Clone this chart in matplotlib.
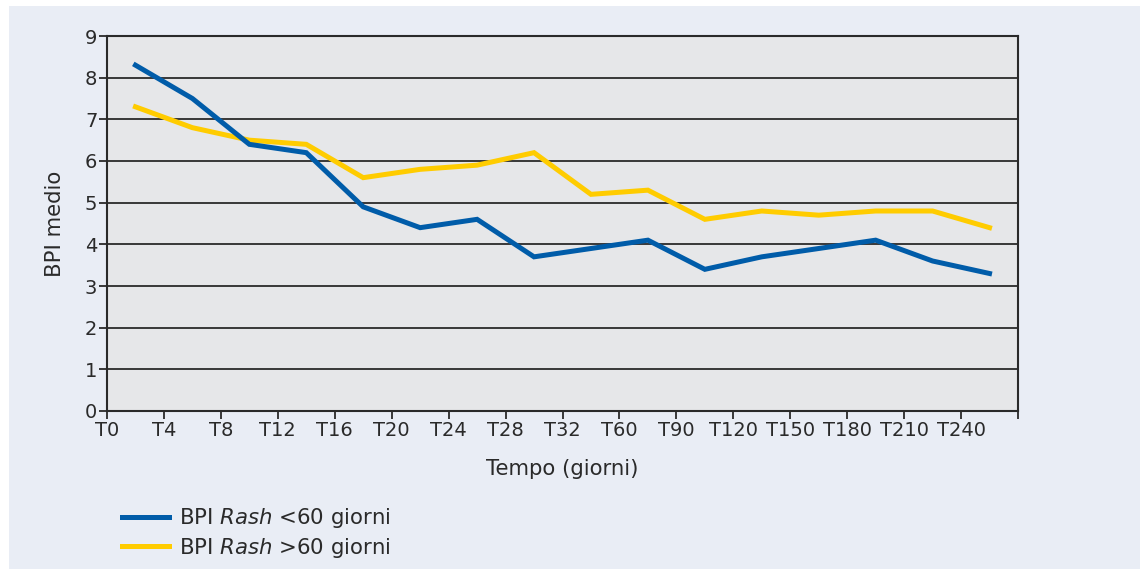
import matplotlib.pyplot as plt
from matplotlib.patches import Rectangle
from matplotlib.lines import Line2D

labels = ['T0', 'T4', 'T8', 'T12', 'T16', 'T20', 'T24', 'T28', 'T32',
          'T60', 'T90', 'T120', 'T150', 'T180', 'T210', 'T240']
bpi_lt60 = [8.3, 7.5, 6.4, 6.2, 4.9, 4.4, 4.6, 3.7, 3.9, 4.1, 3.4, 3.7, 3.9, 4.1, 3.6, 3.3]
bpi_gt60 = [7.3, 6.8, 6.5, 6.4, 5.6, 5.8, 5.9, 6.2, 5.2, 5.3, 4.6, 4.8, 4.7, 4.8, 4.8, 4.4]

blue = '#005ca9'
yellow = '#ffcc00'
ink = '#2a2a2a'
W, H = 1140, 572

plt.rcParams['font.family'] = ['DejaVu Sans']
fig = plt.figure(figsize=(W / 100, H / 100), dpi=100, facecolor='white')
fig.patches.append(Rectangle((9 / W, 0.006), 1, 1 - 6 / H - 0.006, transform=fig.transFigure,
                             facecolor='#e9edf5', edgecolor='none', zorder=-10))

ax = fig.add_axes([107 / W, 1 - 411 / H, (1018 - 107) / W, (411 - 36) / H])
ax.set_facecolor('#e6e7e9')

x = [i + 0.5 for i in range(len(labels))]
ax.plot(x, bpi_gt60, color=yellow, lw=3.6, solid_joinstyle='miter')
ax.plot(x, bpi_lt60, color=blue, lw=3.6, solid_joinstyle='miter')

ax.set_xlim(0, len(labels))
ax.set_ylim(0, 9)
ax.set_xticks(range(len(labels) + 1))
ax.set_xticklabels(labels + [''])
ax.set_yticks(range(10))
ax.grid(axis='y', color=ink, lw=1.3)
ax.set_axisbelow(True)
for s in ax.spines.values():
    s.set_color(ink)
    s.set_linewidth(1.5)
ax.tick_params(axis='both', colors=ink, labelsize=14, length=6, width=1.3, pad=1)
ax.tick_params(axis='y', pad=1)

ax.set_xlabel('Tempo (giorni)', fontsize=15.3, color=ink, labelpad=14)
ax.set_ylabel('BPI medio', fontsize=15.3, color=ink, labelpad=14)

handles = [Line2D([], [], color=blue, lw=3.6), Line2D([], [], color=yellow, lw=3.6)]
fig.legend(handles, ['BPI $\\it{Rash}$ <60 giorni', 'BPI $\\it{Rash}$ >60 giorni'],
           loc='upper left', bbox_to_anchor=(103 / W, 1 - 487 / H), frameon=False,
           fontsize=15.3, handlelength=2.2, handletextpad=0.47, labelspacing=0.26,
           labelcolor=ink)

fig.savefig('out.png', dpi=100, facecolor=fig.get_facecolor())
